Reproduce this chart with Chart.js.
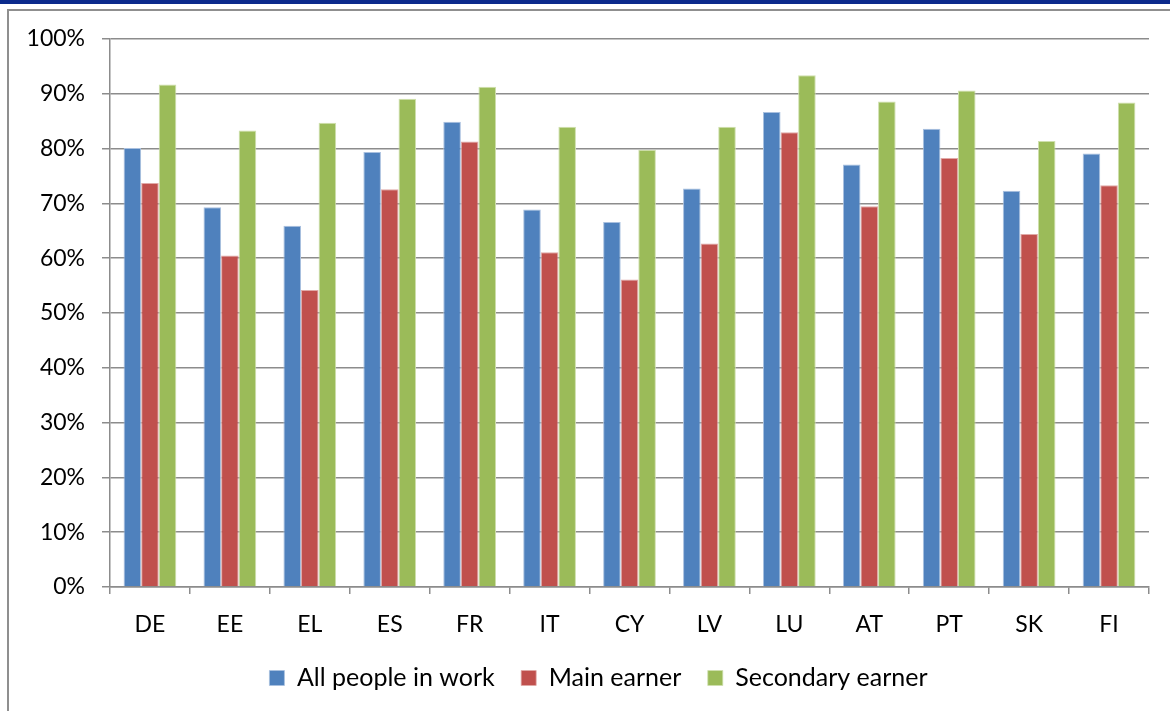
<!DOCTYPE html>
<html>
<head>
<meta charset="utf-8">
<script src="https://cdn.jsdelivr.net/npm/chart.js@4"></script>
<style>
  html, body { margin: 0; padding: 0; background: #fff; }
  #page { position: relative; width: 1170px; height: 711px; overflow: hidden; }
  #band { position: absolute; left: 0; top: 0; width: 1170px; height: 4px; background: #0b2a8c; }
  #frame { position: absolute; left: 7px; top: 9px; width: 1200px; height: 760px; border: 2px solid #8f8f8f; }
  #wrap { position: absolute; left: 0; top: 0; width: 1170px; height: 711px; }
</style>
</head>
<body>
<div id="page">
  <div id="band"></div>
  <div id="frame"></div>
  <div id="wrap"><canvas id="earnersChart" width="1170" height="711"></canvas></div>
</div>
<script>
var countries = ['DE', 'EE', 'EL', 'ES', 'FR', 'IT', 'CY', 'LV', 'LU', 'AT', 'PT', 'SK', 'FI'];
var allInWork = [80.1, 69.3, 65.9, 79.4, 84.9, 68.9, 66.6, 72.7, 86.7, 77.1, 83.6, 72.3, 79.1];
var mainEarner = [73.7, 60.5, 54.2, 72.6, 81.3, 61.1, 56.1, 62.7, 83.0, 69.5, 78.3, 64.4, 73.3];
var secondaryEarner = [91.7, 83.3, 84.7, 89.1, 91.3, 84.0, 79.8, 84.0, 93.4, 88.6, 90.6, 81.4, 88.4];
var yTicks = [0, 10, 20, 30, 40, 50, 60, 70, 80, 90, 100];

// legend sits a little right of the canvas centre
var legendShift = {
    id: 'legendShift',
    afterLayout: function(chart) {
        chart.legend.left += 24;
        chart.legend.right += 24;
    }
};

document.addEventListener("DOMContentLoaded", function() {
    var ctx = document.getElementById('earnersChart').getContext('2d');
    var font = "Lato, 'Noto Sans', sans-serif";

    function series(label, data, fill, edge) {
        return {
            label: label,
            data: data,
            backgroundColor: fill,
            borderColor: edge,
            borderWidth: { top: 1, left: 1, right: 1, bottom: 0 },
            borderSkipped: 'bottom',
            categoryPercentage: 0.66,
            barPercentage: 1.0
        };
    }

    new Chart(ctx, {
        type: 'bar',
        data: {
            labels: countries,
            datasets: [
                series('All people in work', allInWork, '#4f81bd', '#a9c0df'),
                series('Main earner', mainEarner, '#c0504d', '#e0a9a7'),
                series('Secondary earner', secondaryEarner, '#9bbb59', '#cfe0ad')
            ]
        },
        plugins: [legendShift],
        options: {
            responsive: false,
            animation: false,
            layout: { padding: { left: 0, right: 21, top: 39, bottom: 10.5 } },
            plugins: {
                legend: {
                    position: 'bottom',
                    labels: {
                        boxWidth: 15,
                        boxHeight: 15,
                        padding: 26.5,
                        color: '#000',
                        font: { family: font, size: 25 }
                    }
                },
                tooltip: { enabled: false }
            },
            scales: {
                x: {
                    grid: {
                        offset: true,
                        drawOnChartArea: false,
                        tickLength: 7,
                        color: '#8c8c8c',
                        lineWidth: 1.5
                    },
                    border: { color: '#8c8c8c', width: 1.5 },
                    ticks: {
                        padding: 16.5,
                        color: '#000',
                        font: { family: font, size: 23 }
                    },
                    afterFit: function(scale) { scale.height = 52; }
                },
                y: {
                    min: 0,
                    max: 100,
                    afterBuildTicks: function(scale) {
                        scale.ticks = yTicks.map(function(v) { return { value: v }; });
                    },
                    grid: {
                        tickLength: 8,
                        color: '#8c8c8c',
                        lineWidth: 1.5
                    },
                    border: { color: '#8c8c8c', width: 1.5 },
                    ticks: {
                        padding: 17,
                        color: '#000',
                        font: { family: font, size: 23 },
                        callback: function(v) { return v + '%'; }
                    },
                    afterFit: function(scale) { scale.width = 110; }
                }
            }
        }
    });
});
</script>
</body>
</html>
